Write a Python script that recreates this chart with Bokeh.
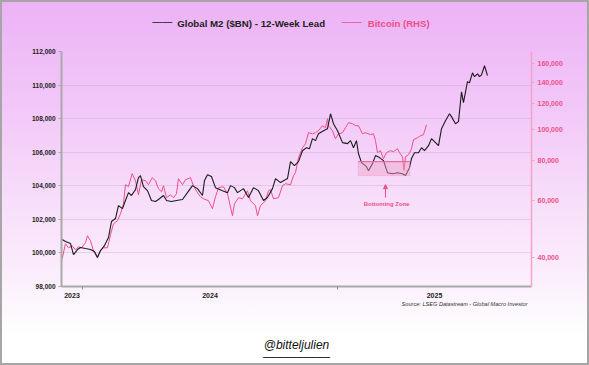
from bokeh.plotting import figure
from bokeh.models import (Range1d, LinearAxis, LogAxis, LogScale, FixedTicker,
                          NumeralTickFormatter, Label, BoxAnnotation, Arrow,
                          NormalHead, Grid)
from bokeh.embed import file_html
from bokeh.resources import INLINE

# ---------------- data (x = weeks since 2024-01-01) ----------------
m2_week = [-4.15, -3.48, -2.45, -1.84, -1.02, -0.41, 0.61, 1.64, 2.45, 3.07, 3.68,
           4.50, 5.32, 5.93, 6.75, 7.36, 8.18, 8.79, 9.41, 10.02, 10.84, 11.45,
           11.86, 12.47, 13.29, 14.11, 14.93, 15.54, 16.56, 17.18, 18.20, 19.22,
           20.45, 21.47, 22.49, 23.52, 24.54, 24.95, 25.56, 26.38, 27.20, 28.63,
           29.65, 30.27, 31.08, 31.70, 32.92, 33.95, 34.97, 35.99, 37.01, 37.83,
           38.85, 39.47, 40.49, 41.92, 42.54, 43.35, 44.17, 44.99, 45.81, 46.42,
           47.03, 47.65, 48.26, 49.28, 50.10, 50.72, 51.33, 52.15, 53.17, 54.19,
           54.81, 55.42, 56.03, 56.44, 57.06, 58.08, 58.49, 59.30, 59.92, 60.74,
           61.55, 62.37, 63.39, 64.42, 65.44, 66.05, 66.87, 67.28, 67.89, 68.71,
           69.33, 69.94, 70.76, 71.37, 71.98, 72.80, 73.42, 74.23, 75.05, 75.46,
           76.28, 76.89, 77.51, 77.91, 78.73, 79.14, 79.75, 80.16, 80.78, 81.19,
           81.60, 82.21, 82.82]
m2_value = [100800, 100680, 100560, 99900, 100200, 100320, 100260, 100200, 100080,
            99730, 100140, 100440, 100920, 101870, 102050, 102820, 102640, 103120,
            103590, 103420, 103770, 104490, 104610, 103950, 103710, 103120, 103060,
            103180, 103420, 103120, 103060, 103120, 103180, 103590, 104010, 103830,
            103420, 104310, 104660, 104550, 103890, 103710, 103590, 104010, 103890,
            103590, 103830, 103300, 103890, 103710, 103120, 103300, 103830, 104430,
            104190, 104430, 105440, 105200, 105440, 106090, 106270, 106210, 106810,
            106690, 107100, 107280, 107400, 108290, 107700, 107280, 106570, 106510,
            106690, 106270, 106690, 105910, 105380, 105140, 104900, 105320, 105800,
            105680, 105500, 104780, 104720, 104780, 104720, 104610, 105080, 105620,
            105970, 105970, 106270, 106090, 106390, 106810, 106630, 106390, 107400,
            107880, 108290, 108120, 107700, 107820, 109600, 108950, 110200, 110140,
            110730, 110500, 110670, 110500, 110610, 111150, 110560]

btc_week = [-4.15, -3.48, -2.86, -2.11, -1.43, -0.82, -0.20, 0.61, 1.02, 1.64, 2.25,
            3.01, 3.68, 4.29, 5.11, 5.73, 6.34, 7.16, 7.77, 8.38, 8.79, 9.41, 10.16,
            10.84, 11.45, 12.07, 12.88, 13.50, 14.25, 14.93, 15.54, 16.16, 16.56,
            17.18, 18.00, 18.61, 19.22, 19.63, 20.45, 21.06, 22.09, 22.70, 23.52,
            24.13, 24.74, 25.77, 26.58, 27.20, 27.81, 28.83, 29.65, 30.67, 31.08,
            31.90, 32.72, 33.74, 34.36, 35.38, 35.79, 36.40, 37.42, 38.04, 38.45,
            39.06, 40.08, 40.90, 41.51, 42.54, 43.15, 43.56, 44.17, 44.99, 45.60,
            46.22, 47.03, 47.65, 48.26, 49.08, 49.69, 50.10, 50.31, 51.12, 51.74,
            52.35, 53.17, 53.78, 54.40, 55.21, 55.83, 56.44, 57.26, 57.87, 58.90,
            59.51, 59.92, 60.33, 60.94, 61.55, 62.17, 62.99, 63.60, 64.42, 64.83,
            65.44, 65.75, 66.05, 66.67, 67.28, 67.69, 68.51, 69.12, 69.73, 70.35]
btc_value = [39630, 44120, 42870, 43490, 42260, 43180, 42870, 44440, 46720, 45080,
             41960, 40000, 41960, 42870, 42870, 47050, 50900, 52000, 54670, 58720,
             67270, 66320, 72790, 69220, 62620, 69720, 69220, 67270, 70720, 69220,
             65380, 63990, 66800, 61290, 62620, 61290, 63070, 70220, 67270, 69720,
             70720, 66800, 63530, 61730, 60860, 60000, 56660, 61730, 65850, 66320,
             63070, 53890, 58720, 61290, 60860, 64440, 60000, 57890, 53890, 57890,
             60000, 64440, 64910, 60860, 61290, 66800, 67760, 67270, 71760, 73310,
             81580, 87650, 90190, 97560, 96870, 97560, 98970, 102580, 101120, 107840,
             102580, 98970, 93460, 96870, 97560, 101120, 104800, 104050, 102580,
             102580, 96870, 97560, 96180, 96870, 92130, 84580, 85800, 81000, 84580,
             85800, 85180, 87020, 84580, 82160, 74370, 82160, 83350, 87020, 92800,
             94130, 95490, 96180, 103330]

m2_ticks = [98000, 100000, 102000, 104000, 106000, 108000, 110000, 112000]
btc_ticks = [40000, 60000, 80000, 100000, 120000, 140000, 160000]
year_labels = ["2023", "2024", "2025"]
year_start_weeks = [0, 52.15]          # 2024-01-01, 2025-01-01

BLACK = "#1b1b1b"
PINK = "#ec4f86"
FONT = "Liberation Sans"

x_start, x_end = -4.29, 91.82
p = figure(width=589, height=365, output_backend="svg", toolbar_location=None,
           x_range=Range1d(x_start, x_end), y_range=Range1d(98000, 112000),
           x_axis_location=None, y_axis_location=None,
           min_border_left=61, min_border_right=58, min_border_top=51,
           min_border_bottom=79)
p.background_fill_color = None
p.border_fill_color = None
p.outline_line_color = None
p.xgrid.visible = False
p.ygrid.visible = False
p.styles = {
    "background": "linear-gradient(180deg, #ecb2f6 0%, #f2c8f8 30%, #f7defa 55%, #fbeefc 76%, #ffffff 92%)",
    "box-shadow": "inset 0 0 0 2px #a6a6a6",
}

p.extra_y_ranges = {"btc": Range1d(32510, 174300)}
p.extra_y_scales = {"btc": LogScale()}

# left axis
yl = LinearAxis(ticker=FixedTicker(ticks=m2_ticks),
                formatter=NumeralTickFormatter(format="0,0"),
                axis_line_color="#a9a9a9", axis_line_width=2,
                major_tick_line_color="#a9a9a9", major_tick_out=3, major_tick_in=0,
                minor_tick_line_color=None,
                major_label_text_font=FONT, major_label_text_font_size="6.5px",
                major_label_text_font_style="bold", major_label_text_color="#222222",
                major_label_standoff=3)
p.add_layout(yl, "left")
p.add_layout(Grid(dimension=1, ticker=yl.ticker, grid_line_color="#c9a6d2",
                  grid_line_alpha=0.8, grid_line_dash="1 1"))

# right log axis
yr = LogAxis(y_range_name="btc", ticker=FixedTicker(ticks=btc_ticks),
             formatter=NumeralTickFormatter(format="0,0"),
             axis_line_color="#f3a4c6", axis_line_width=1.5,
             major_tick_line_color="#f3a4c6", major_tick_out=3, major_tick_in=0,
             minor_tick_line_color=None,
             major_label_text_font=FONT, major_label_text_font_size="7px",
             major_label_text_font_style="bold", major_label_text_color=PINK,
             major_label_standoff=3)
p.add_layout(yr, "right")

# bottom axis: labels centred in each year segment, ticks at year starts
bounds = [x_start] + year_start_weeks + [x_end]
mids = [(bounds[i] + bounds[i + 1]) / 2 for i in range(len(year_labels))]
xb = LinearAxis(ticker=FixedTicker(ticks=mids, minor_ticks=year_start_weeks),
                major_label_overrides={m: t for m, t in zip(mids, year_labels)},
                axis_line_color="#a9a9a9", axis_line_width=2,
                major_tick_line_color=None,
                minor_tick_line_color="#8a8a8a", minor_tick_out=3, minor_tick_in=0,
                major_label_text_font=FONT, major_label_text_font_size="7px",
                major_label_text_font_style="bold", major_label_text_color="#222222",
                major_label_standoff=0)
p.add_layout(xb, "below")

# bottoming zone
p.add_layout(BoxAnnotation(left=56.38, right=66.93, bottom=104605, top=105438,
                           fill_color="#f2a2c8", fill_alpha=0.45,
                           line_color="#ee8db5", line_width=1))
p.add_layout(Arrow(x_start=56.38, y_start=105438, x_end=66.93, y_end=105438,
                   start=None, end=None, line_color="#e0628f", line_width=1))
p.add_layout(Arrow(x_start=61.96, y_start=103296, x_end=61.96, y_end=104069,
                   end=NormalHead(size=4, fill_color=PINK, line_color=PINK),
                   line_color=PINK, line_width=1))
p.add_layout(Label(x=62.2, y=102939, text="Bottoming Zone", text_align="center",
                   text_baseline="middle", text_font=FONT, text_font_size="6px",
                   text_font_style="bold", text_color=PINK))

# series
p.line(btc_week, btc_value, y_range_name="btc", line_color=PINK, line_width=1)
p.line(m2_week, m2_value, line_color=BLACK, line_width=1.1)

# legend (annotations in the side panel above the frame, so not clipped)
p.add_layout(Label(x=14.25, y=113773, text="\u2014\u2014", text_align="left",
                   text_baseline="alphabetic", text_font=FONT, text_font_size="10px",
                   text_color=BLACK), "above")
p.add_layout(Label(x=19.37, y=113666, text="Global M2 ($BN) - 12-Week Lead",
                   text_align="left", text_baseline="middle", text_font=FONT,
                   text_font_size="9.7px", text_font_style="bold",
                   text_color="#222222"), "above")
p.add_layout(Label(x=52.97, y=113773, text="\u2014\u2014", text_align="left",
                   text_baseline="alphabetic", text_font=FONT, text_font_size="10px",
                   text_color=PINK), "above")
p.add_layout(Label(x=58.34, y=113666, text="Bitcoin (RHS)",
                   text_align="left", text_baseline="middle", text_font=FONT,
                   text_font_size="9.6px", text_font_style="bold",
                   text_color=PINK), "above")

# source and handle (side panel below the frame)
p.add_layout(Label(x=91.0, y=96929, text="Source: LSEG Datastream - Global Macro Investor",
                   text_align="right", text_baseline="middle", text_font=FONT,
                   text_font_size="5.6px", text_font_style="italic",
                   text_color="#333333"), "below")
p.add_layout(Label(x=43.76, y=94490, text="@bitteljulien", text_align="center",
                   text_baseline="middle", text_font=FONT, text_font_size="12px",
                   text_font_style="italic", text_color="#111111"), "below")
p.add_layout(Label(x=43.76, y=94144, text="__________", text_align="center",
                   text_baseline="alphabetic", text_font=FONT, text_font_size="12px",
                   text_color="#111111"), "below")

open("out.html", "w").write(file_html(p, INLINE))
